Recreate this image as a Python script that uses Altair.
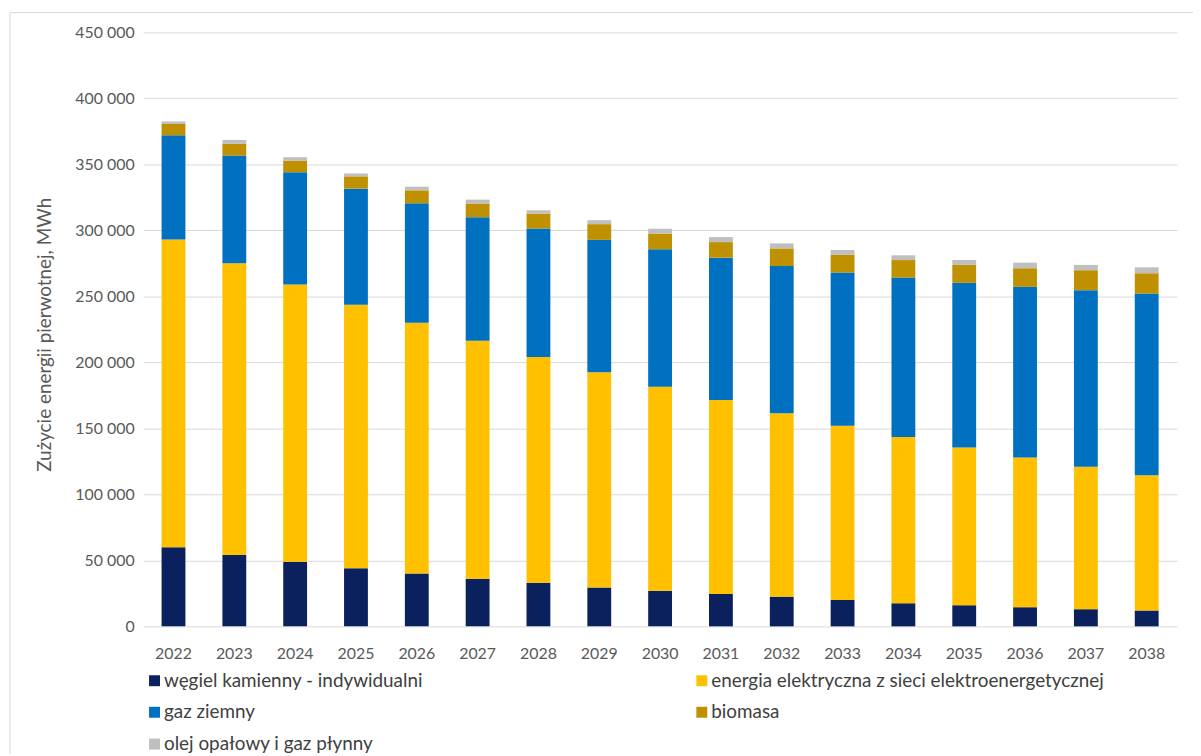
import altair as alt
import pandas as pd

years = [str(y) for y in range(2022, 2039)]
series = [
    "węgiel kamienny - indywidualni",
    "energia elektryczna z sieci elektroenergetycznej",
    "gaz ziemny",
    "biomasa",
    "olej opałowy i gaz płynny",
]
colors = ["#0B215E", "#FFC000", "#0070C0", "#BF9000", "#BFBFBF"]

wegiel = [60, 54, 49, 44, 40, 36, 33, 29.5, 27, 24.5, 22.5, 20, 17.5, 16, 14.5, 13, 12]
energia = [233, 221, 210, 199.6, 190, 180.4, 171, 163, 154.5, 147, 139, 132, 126, 119.5, 113.5, 108, 102.5]
gaz = [79, 81.7, 85, 88, 90.5, 93.6, 97.4, 100.3, 104.2, 107.8, 111.5, 116, 120.7, 124.7, 129.2, 133.7, 137.6]
biomasa = [8.6, 8.8, 8.7, 9.3, 9.8, 10.3, 11.3, 11.9, 11.9, 11.8, 13.3, 13.5, 13.3, 13.6, 14.1, 15.1, 15.4]
olej = [1.9, 3.0, 2.7, 2.2, 2.8, 3.0, 2.5, 3.0, 3.6, 3.8, 3.8, 3.6, 3.6, 3.7, 4.2, 4.0, 4.5]

rows = []
for idx, (name, vals) in enumerate(zip(series, [wegiel, energia, gaz, biomasa, olej])):
    for y, v in zip(years, vals):
        rows.append({"rok": y, "seria": name, "idx": idx, "wartosc": v * 1000})
df = pd.DataFrame(rows)

# legend fills column by column: reorder so rows read like the reference
legend_order = [0, 2, 4, 1, 3]
leg_domain = [series[i] for i in legend_order]
leg_range = [colors[i] for i in legend_order]

FONT = "Lato"
GREY = "#595959"

bars = alt.Chart(df).mark_bar(size=24).encode(
    x=alt.X("rok:N", sort=years, title=None,
            scale=alt.Scale(paddingInner=0.6, paddingOuter=0.3),
            axis=alt.Axis(labelAngle=0, labelFontSize=16, labelColor=GREY, labelFont=FONT,
                          ticks=False, domain=False, labelPadding=19)),
    y=alt.Y("wartosc:Q", stack="zero",
            scale=alt.Scale(domain=[0, 450000]),
            axis=alt.Axis(values=list(range(0, 450001, 50000)),
                          labelExpr="replace(format(datum.value, ','), ',', ' ')",
                          labelFontSize=16, labelColor=GREY, labelFont=FONT,
                          ticks=False, domain=False, labelPadding=9,
                          gridColor="#D9D9D9", gridWidth=1,
                          title="Zużycie energii pierwotnej, MWh",
                          titleFont=FONT, titleFontSize=19, titleColor=GREY,
                          titleFontWeight="normal", titleX=-99, titleY=304,
                          titleAngle=-90, titleAlign="center", titleBaseline="middle")),
    color=alt.Color("seria:N",
                    scale=alt.Scale(domain=leg_domain, range=leg_range),
                    legend=alt.Legend(title=None, orient="none", legendX=2, legendY=643,
                                      columns=2, columnPadding=271, rowPadding=12,
                                      symbolType="square", symbolSize=121,
                                      symbolStrokeWidth=0, symbolOffset=0,
                                      labelFont=FONT, labelFontSize=19, labelColor="#404040",
                                      labelLimit=600, labelOffset=0)),
    order=alt.Order("idx:Q", sort="ascending"),
)

frame = alt.Chart(pd.DataFrame({"k": [0]})).mark_rule(color="#D9D9D9", strokeWidth=1).encode(
    x=alt.value(-134), y=alt.value(-20), y2=alt.value(740)
)
frame_top = alt.Chart(pd.DataFrame({"k": [0]})).mark_rule(color="#D9D9D9", strokeWidth=1).encode(
    x=alt.value(-134), x2=alt.value(1070), y=alt.value(-20)
)

chart = alt.layer(bars, frame, frame_top).properties(
    width=1041, height=598,
    autosize=alt.AutoSizeParams(type="none"),
    padding={"left": 136, "top": 22, "right": 16, "bottom": 126},
).configure(background="white").configure_view(stroke=None)

chart.save("out.html", embed_options={"renderer": "svg", "actions": False})
